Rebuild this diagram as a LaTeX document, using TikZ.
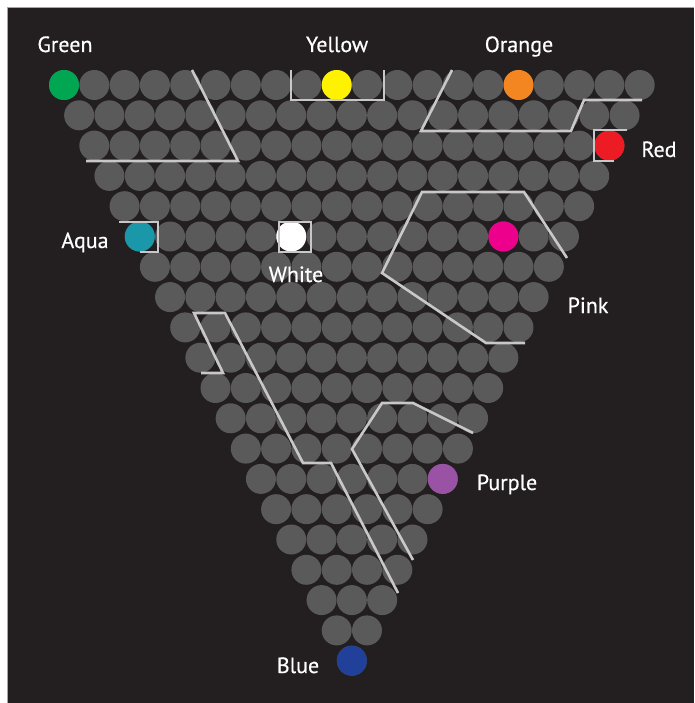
\documentclass[tikz,border=0pt]{standalone}
\usepackage{fontspec}
\setmainfont{PT Sans}
\newfontfamily\labfont{PT Sans}[FakeBold=0.5]
\usepackage{tikz}

\definecolor{bgdark}{RGB}{35,31,32}
\definecolor{ballgray}{RGB}{90,90,91}
\definecolor{wallgray}{RGB}{200,200,200}
\definecolor{cgreen}{RGB}{0,166,81}
\definecolor{cyellow}{RGB}{255,242,0}
\definecolor{corange}{RGB}{243,134,32}
\definecolor{cred}{RGB}{237,28,36}
\definecolor{caqua}{RGB}{26,152,170}
\definecolor{cpink}{RGB}{236,0,140}
\definecolor{cpurple}{RGB}{154,82,164}
\definecolor{cblue}{RGB}{33,64,154}

\begin{document}
\begin{tikzpicture}[x=1pt, y=-1pt, ball/.style={circle, fill=ballgray, minimum size=30pt, inner sep=0pt},
	wall/.style={draw=wallgray, line width=2.6pt, line join=miter},
	lab/.style={text=white, anchor=base, font=\labfont\fontsize{22}{26}\selectfont, inner sep=0pt}]
	\useasboundingbox (0,0) rectangle (694,703);
	\fill[white] (0,0) rectangle (694,703);
	\fill[bgdark] (7,7) rectangle (694,703);
	\draw[gray!70, line width=0.6pt] (7,703) -- (7,7) -- (694,7);
	\foreach \r in {0,...,19} {
		\pgfmathtruncatemacro\n{19-\r}
		\foreach \c in {0,...,\n} {\node[ball] (b\r-\c) at ({64+(\c+\r/2)*30.3},{85+\r*30.3}) {};}
	}
	\node[ball, fill=cgreen] (green) at (b0-0) {};
	\node[ball, fill=cyellow] (yellow) at (b0-9) {};
	\node[ball, fill=corange] (orange) at (b0-15) {};
	\node[ball, fill=cred] (red) at (b2-17) {};
	\node[ball, fill=caqua] (aqua) at (b5-0) {};
	\node[ball, fill=white] (white) at (b5-5) {};
	\node[ball, fill=cpink] (pink) at (b5-12) {};
	\node[ball, fill=cpurple] (purple) at (b13-6) {};
	\node[ball, fill=cblue] (blue) at (b19-0) {};
	\draw[wall] (192,70) -- (238,161) -- (86,161);
	\draw[wall] (291,70) -- (291,100) -- (384,100) -- (384,70);
	\draw[wall] (452,70) -- (421,131) -- (571,131) -- (584,100) -- (642,100);
	\draw[wall] (627,130) -- (594,130) -- (594,161) -- (614,161);
	\draw[wall] (119,222) -- (158,222) -- (158,252) -- (140,252);
	\draw[wall] (279,222) rectangle (311,252);
	\draw[wall] (567,258) -- (524,192) -- (422,192) -- (382,273) -- (486,343) -- (525,343);
	\draw[wall] (201,373) -- (223,373) -- (194,313) -- (225,313) -- (303,463) -- (331,463) -- (398,593);
	\draw[wall] (473,433) -- (413,403) -- (382,403) -- (352,449) -- (413,560);
	\node[lab] (lgreen) at (65,52) {Green};
	\node[lab] (lyellow) at (337,52) {Yellow};
	\node[lab] (lorange) at (519,52) {Orange};
	\node[lab] (lred) at (659,157) {Red};
	\node[lab] (laqua) at (85,248) {Aqua};
	\node[lab] (lwhite) at (296,282) {White};
	\node[lab] (lpink) at (588,313) {Pink};
	\node[lab] (lpurple) at (507,490) {Purple};
	\node[lab] (lblue) at (298,673) {Blue};
\end{tikzpicture}
\end{document}
